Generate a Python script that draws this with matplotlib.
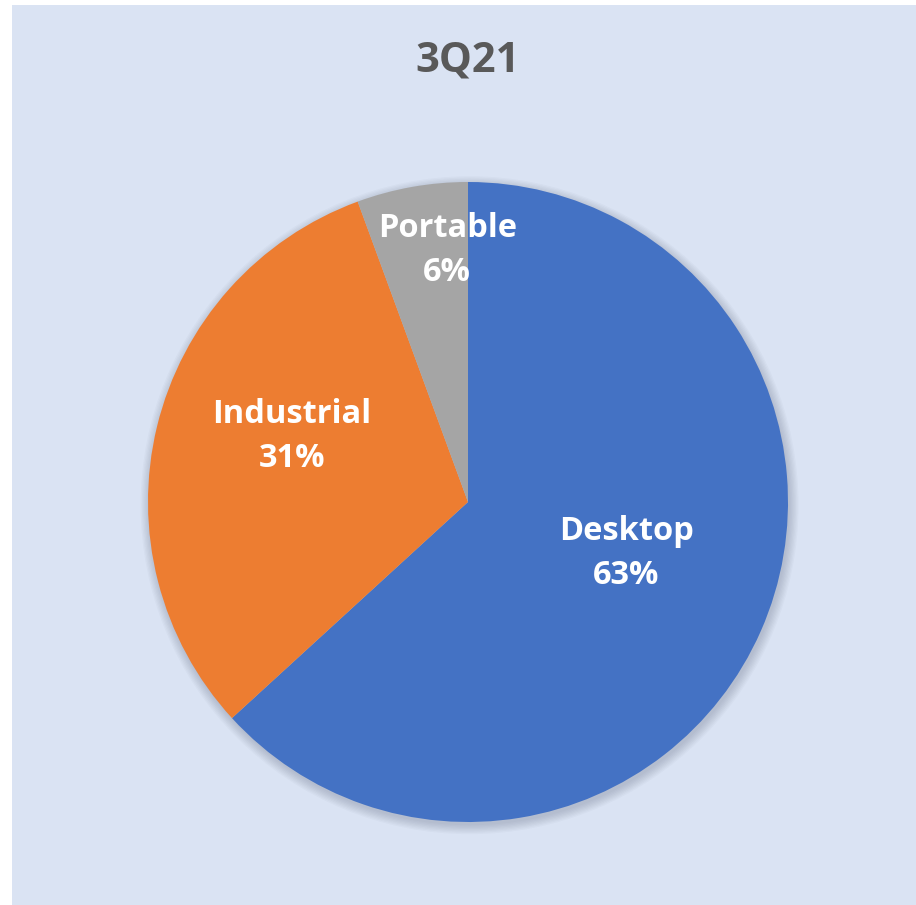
import numpy as np
import matplotlib.pyplot as plt
from matplotlib.patches import Rectangle, Circle

# data
categories = ['Desktop', 'Industrial', 'Portable']
shares = [63.2, 31.2, 5.6]
colors = ['#4472C4', '#ED7D31', '#A5A5A5']
title = '3Q21'

# label placement (offset from pie centre, in radius units)
label_pos = [(0.495, -0.16), (-0.55, 0.205), (-0.065, 0.785)]

plt.rcParams['font.family'] = ['Open Sans', 'DejaVu Sans']

fig = plt.figure(figsize=(9.16, 9.05), dpi=100, facecolor='white')
fig.patches.append(Rectangle((12/916, 0), 1 - 12/916, 1 - 5/905,
                             transform=fig.transFigure, facecolor='#DAE3F3',
                             edgecolor='none', zorder=-1))

ax = fig.add_axes([148/916, 83/905, 640/916, 640/905])
ax.set_facecolor('none')

# soft shadow below the pie
for k in range(8):
    ax.add_patch(Circle((0.005, -0.010), 1 + k*0.004, facecolor='#404860',
                        edgecolor='none', alpha=0.03, zorder=0, clip_on=False))

wedges, _ = ax.pie(shares, colors=colors, startangle=90, counterclock=False,
                   radius=1, wedgeprops=dict(linewidth=0))
for w in wedges:
    w.set_zorder(2)

for name, val, (x, y) in zip(categories, shares, label_pos):
    ax.text(x, y, f'{name}\n{val:.0f}%', ha='center', va='center',
            color='white', fontsize=23.5, fontweight='bold', linespacing=1.45,
            zorder=3)

ax.set_xlim(-1, 1)
ax.set_ylim(-1, 1)
ax.axis('off')

fig.text(468/916, 1 - 61/905, title, ha='center', va='center',
         fontsize=30, fontweight='bold', color='#595959')

fig.savefig('out.png', dpi=100, facecolor=fig.get_facecolor())
